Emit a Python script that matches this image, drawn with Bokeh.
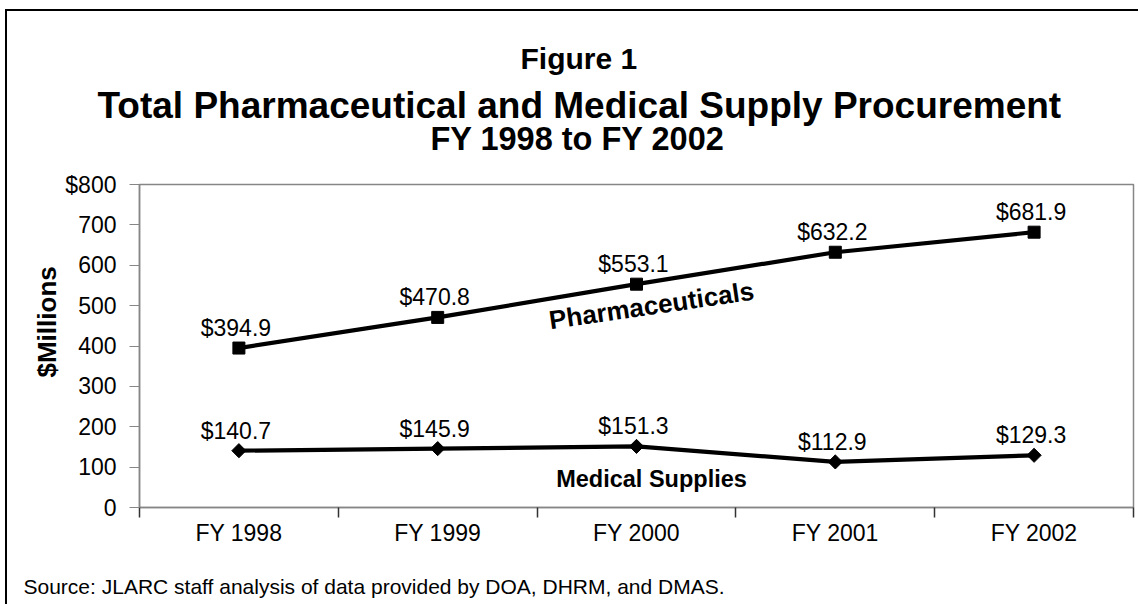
import math
from bokeh.plotting import figure
from bokeh.models import Range1d, FixedTicker, Label, LabelSet, ColumnDataSource, Title
from bokeh.core.properties import value
from bokeh.embed import file_html
from bokeh.resources import INLINE

# ---- data ----
years = ["FY 1998", "FY 1999", "FY 2000", "FY 2001", "FY 2002"]
pharmaceuticals = [394.9, 470.8, 553.1, 632.2, 681.9]
medical_supplies = [140.7, 145.9, 151.3, 112.9, 129.3]
y_ticks = [0, 100, 200, 300, 400, 500, 600, 700, 800]
y_tick_labels = ["0", "100", "200", "300", "400", "500", "600", "700", "$800"]

FONT = "Liberation Sans"
AXIS_GRAY = "#868686"

n = len(years)
xs = list(range(1, n + 1))

# layout (page pixels)
MARGIN_L, MARGIN_T, BORDER = 5, 9, 2
PAGE_X0, PAGE_Y0 = MARGIN_L + BORDER, MARGIN_T + BORDER
F_L, F_R, F_T, F_B = 139, 1133, 184, 507
W, H = 1140 - PAGE_X0, 606 - PAGE_Y0

p = figure(width=W, height=H, output_backend="svg", toolbar_location=None,
           x_range=Range1d(0.5, n + 0.5), y_range=Range1d(0, 800),
           min_border_left=F_L - PAGE_X0, min_border_right=W - (F_R - PAGE_X0),
           min_border_top=F_T - PAGE_Y0, min_border_bottom=H - (F_B - PAGE_Y0),
           styles={"border-left": f"{BORDER}px solid black",
                   "border-top": f"{BORDER}px solid black",
                   "margin-left": f"{MARGIN_L}px", "margin-top": f"{MARGIN_T}px"})

p.grid.visible = False
p.outline_line_color = AXIS_GRAY
p.outline_line_width = 1.5
p.background_fill_color = "white"
p.border_fill_color = "white"

def fx(px):
    return 0.5 + (px - F_L) / (F_R - F_L) * n

def fy(py):
    return (F_B - py) / (F_B - F_T) * 800

# y axis
ya = p.yaxis[0]
ya.ticker = FixedTicker(ticks=y_ticks, minor_ticks=[])
ya.major_label_overrides = {t: l for t, l in zip(y_ticks, y_tick_labels)}
ya.axis_line_color = AXIS_GRAY
ya.axis_line_width = 1.5
ya.major_tick_line_color = AXIS_GRAY
ya.major_tick_out = 10
ya.major_tick_in = 0
ya.minor_tick_line_color = None
ya.major_label_text_font = FONT
ya.major_label_text_font_size = "23px"
ya.major_label_text_color = "black"
ya.major_label_standoff = 13

# x axis: labels at category centres, ticks between categories
xa = p.xaxis[0]
xa.ticker = FixedTicker(ticks=xs, minor_ticks=[i + 0.5 for i in range(n + 1)])
xa.major_label_overrides = {x: y for x, y in zip(xs, years)}
xa.axis_line_color = AXIS_GRAY
xa.axis_line_width = 1.5
xa.major_tick_line_color = None
xa.major_tick_out = 0
xa.major_tick_in = 0
xa.minor_tick_line_color = "#333333"
xa.minor_tick_line_width = 1.5
xa.minor_tick_out = 10
xa.minor_tick_in = 0
xa.major_label_text_font = FONT
xa.major_label_text_font_size = "23px"
xa.major_label_text_color = "black"
xa.major_label_standoff = 2

# series
p.line(xs, pharmaceuticals, line_width=4.2, line_color="black")
p.scatter(xs, pharmaceuticals, marker="square", size=12, color="black")
p.line(xs, medical_supplies, line_width=4.2, line_color="black")
p.scatter(xs, medical_supplies, marker="square", angle=math.pi / 4, size=10, color="black")

# value labels
src = ColumnDataSource(dict(
    x=xs + xs,
    y=pharmaceuticals + medical_supplies,
    t=[f"${v:.1f}" for v in pharmaceuticals + medical_supplies],
))
p.add_layout(LabelSet(x="x", y="y", text="t", source=src, text_align="center",
                      text_baseline="alphabetic", x_offset=-3, y_offset=12,
                      text_font=value(FONT), text_font_size="23px", text_color="black"))

# series names
p.add_layout(Label(x=fx(651), y=fy(305), text="Pharmaceuticals", angle=8.3 * math.pi / 180,
                   text_align="center", text_baseline="alphabetic", text_font=FONT,
                   text_font_size="26px", text_font_style="bold", text_color="black"))
p.add_layout(Label(x=fx(651), y=fy(478), text="Medical Supplies",
                   text_align="center", text_baseline="alphabetic", text_font=FONT,
                   text_font_size="23.5px", text_font_style="bold", text_color="black"))

# titles (first added sits closest to the frame); a thin spacer keeps the gap
p.add_layout(Title(text=" ", text_font_size="1px", standoff=25), "above")
p.add_layout(Title(text="FY 1998 to FY 2002", align="left", offset=430 - F_L, standoff=0,
                   text_font=FONT, text_font_size="32.5px", text_font_style="bold",
                   text_color="black"), "above")
p.add_layout(Title(text="Total Pharmaceutical and Medical Supply Procurement", align="left",
                   offset=97 - F_L, standoff=-15, text_font=FONT, text_font_size="37px",
                   text_font_style="bold", text_color="black"), "above")
p.add_layout(Title(text="Figure 1", align="left", offset=520 - F_L, standoff=32,
                   text_font=FONT, text_font_size="30px", text_font_style="bold",
                   text_color="black"), "above")

# y axis title
p.add_layout(Title(text="$Millions", align="left", offset=F_B - 377, standoff=2,
                   text_font=FONT, text_font_size="26px", text_font_style="bold",
                   text_color="black"), "left")

# source note, below a thin spacer
p.add_layout(Title(text=" ", text_font_size="1px", standoff=23), "below")
p.add_layout(Title(text="Source: JLARC staff analysis of data provided by DOA, DHRM, and DMAS.",
                   align="left", offset=23 - F_L, standoff=0, vertical_align="top",
                   text_font=FONT, text_font_size="21px", text_font_style="normal",
                   text_color="black"), "below")

open("out.html", "w").write(file_html(p, INLINE))
